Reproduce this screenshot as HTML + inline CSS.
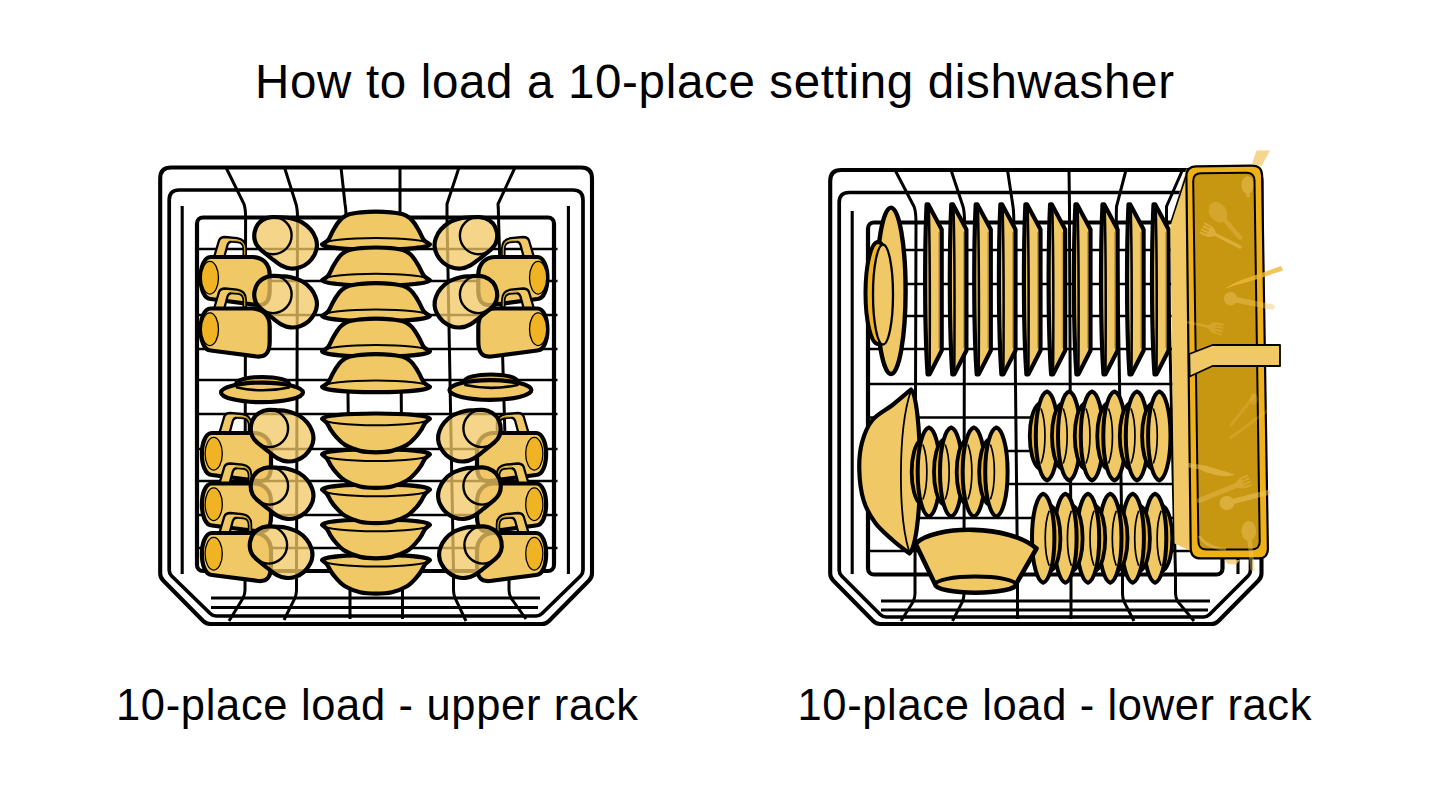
<!DOCTYPE html>
<html lang="en"><head><meta charset="utf-8"><title>How to load a 10-place setting dishwasher</title>
<style>html,body{margin:0;padding:0;background:#fff}body{width:1440px;height:800px;overflow:hidden;font-family:"Liberation Sans",sans-serif}svg{display:block}text{font-family:"Liberation Sans",sans-serif;fill:#000}</style>
</head><body>
<svg width="1440" height="800" viewBox="0 0 1440 800">
<rect width="1440" height="800" fill="#fff"/>
<text x="255" y="97.5" font-size="47.5" textLength="919" lengthAdjust="spacing">How to load a 10-place setting dishwasher</text>
<text x="116" y="720" font-size="43.5" textLength="522" lengthAdjust="spacing">10-place load - upper rack</text>
<text x="797.5" y="720" font-size="43.5" textLength="514" lengthAdjust="spacing">10-place load - lower rack</text>
<g id="upper">
<path d="M171.2,167.5 H581 Q592,167.5 592,178.5 V573.5 Q592,577.5 589,580.5 L549,621 Q546,624 542,624 H210.2 Q206.2,624 203.2,621 L163.2,580.5 Q160.2,577.5 160.2,573.5 V178.5 Q160.2,167.5 171.2,167.5 Z" fill="none" stroke="#000" stroke-width="4.1" stroke-linejoin="round"/>
<path d="M179.2,190 H573 Q583,190 583,200 V570 Q583,573.5 580.5,576 L542,613.5 Q539.5,616 536,616 H216.2 Q212.7,616 210.2,613.5 L171.7,576 Q169.2,573.5 169.2,570 V200 Q169.2,190 179.2,190 Z" fill="none" stroke="#000" stroke-width="3.7" stroke-linejoin="round"/>
<path d="M182.2,206 V574 M568.4,206 V574" fill="none" stroke="#000" stroke-width="3.1"/>
<path d="M211,598 H540 M211,607.5 H538" fill="none" stroke="#000" stroke-width="2.8"/>
<path d="M226,167.5 L244,204 Q245.6,209 245.6,217.5 M284.5,167.5 L296,204 Q297.5,209 297.5,217.5 M341,167.5 L345,204 Q346,209 346,217.5 M400,167.5 L400,204 Q400,209 400,217.5 M459,167.5 L447,204 Q447,209 447,217.5 M515,167.5 L498,204 Q498.5,209 498.5,217.5 M245,571 V590 Q245,594 243.1,598 L229,621 M296.5,571 V590 Q296.5,594 295.0,598 L284,620 M350,571 V590 Q350,594 350.0,598 L350,619 M402.5,571 V590 Q402.5,594 402.5,598 L402.5,619 M453.5,571 V590 Q453.5,594 455.0,598 L466,621 M509,571 V590 Q509,594 511.0,598 L526,619 " fill="none" stroke="#000" stroke-width="3"/>
<path d="M245.6,217.5 L245,571 M297.5,217.5 L296.5,571 M346,217.5 L350,571 M400,217.5 L402.5,571 M447,217.5 L453.5,571 M498.5,217.5 L509,571 " fill="none" stroke="#000" stroke-width="3"/>
<path d="M197,249 H557.5 M197,281 H557.5 M197,315 H557.5 M197,349 H557.5 M197,380 H557.5 M197,414 H557.5 M197,449 H557.5 M197,481 H557.5 M197,515 H557.5 M197,548 H557.5 " fill="none" stroke="#000" stroke-width="2.6"/>
<rect x="197" y="217.5" width="357" height="353.5" rx="6" fill="none" stroke="#000" stroke-width="4.2"/>
<g><path fill-rule="evenodd" d="M213.79999999999998,258 L219.0,240.5 Q220.5,237 225.0,237 L237.0,238.2 Q245.79999999999998,239.5 245.79999999999998,248 V258 Z M224.0,258 L227.5,245 Q228.5,241.5 232.0,241.6 L238.0,242.2 Q243.6,243 243.6,249 V258 Z" fill="#F0C865" stroke="#000" stroke-width="2.3" stroke-linejoin="round"/><path d="M230.7,240.4 L238.7,241 Q244.5,242 244.7,249 V255" fill="none" stroke="#C9A227" stroke-width="1.2"/><path d="M210.7,257 H252.7 C261.7,257 269.7,263 269.7,275 V290 C269.7,301 265.7,306 256.7,305 L210.7,299 C197.2,299 197.2,257 210.7,257 Z" fill="#F0C865" stroke="#000" stroke-width="4.2" stroke-linejoin="round"/><ellipse cx="209.89999999999998" cy="277.7" rx="8.6" ry="16.4" fill="#F0B323" stroke="#000" stroke-width="1.3"/></g>
<g><path fill-rule="evenodd" d="M213.79999999999998,309.5 L219.0,292.0 Q220.5,288.5 225.0,288.5 L237.0,289.7 Q245.79999999999998,291.0 245.79999999999998,299.5 V309.5 Z M224.0,309.5 L227.5,296.5 Q228.5,293.0 232.0,293.1 L238.0,293.7 Q243.6,294.5 243.6,300.5 V309.5 Z" fill="#F0C865" stroke="#000" stroke-width="2.3" stroke-linejoin="round"/><path d="M230.7,291.9 L238.7,292.5 Q244.5,293.5 244.7,300.5 V306.5" fill="none" stroke="#C9A227" stroke-width="1.2"/><path d="M210.7,308.5 H252.7 C261.7,308.5 269.7,314.5 269.7,326.5 V341.5 C269.7,352.5 265.7,357.5 256.7,356.5 L210.7,350.5 C197.2,350.5 197.2,308.5 210.7,308.5 Z" fill="#F0C865" stroke="#000" stroke-width="4.2" stroke-linejoin="round"/><ellipse cx="209.89999999999998" cy="329.2" rx="8.6" ry="16.4" fill="#F0B323" stroke="#000" stroke-width="1.3"/></g>
<g transform="translate(748,0) scale(-1,1)"><path fill-rule="evenodd" d="M213.79999999999998,258 L219.0,240.5 Q220.5,237 225.0,237 L237.0,238.2 Q245.79999999999998,239.5 245.79999999999998,248 V258 Z M224.0,258 L227.5,245 Q228.5,241.5 232.0,241.6 L238.0,242.2 Q243.6,243 243.6,249 V258 Z" fill="#F0C865" stroke="#000" stroke-width="2.3" stroke-linejoin="round"/><path d="M230.7,240.4 L238.7,241 Q244.5,242 244.7,249 V255" fill="none" stroke="#C9A227" stroke-width="1.2"/><path d="M210.7,257 H252.7 C261.7,257 269.7,263 269.7,275 V290 C269.7,301 265.7,306 256.7,305 L210.7,299 C197.2,299 197.2,257 210.7,257 Z" fill="#F0C865" stroke="#000" stroke-width="4.2" stroke-linejoin="round"/><ellipse cx="209.89999999999998" cy="277.7" rx="8.6" ry="16.4" fill="#F0B323" stroke="#000" stroke-width="1.3"/></g>
<g transform="translate(748,0) scale(-1,1)"><path fill-rule="evenodd" d="M213.79999999999998,309.5 L219.0,292.0 Q220.5,288.5 225.0,288.5 L237.0,289.7 Q245.79999999999998,291.0 245.79999999999998,299.5 V309.5 Z M224.0,309.5 L227.5,296.5 Q228.5,293.0 232.0,293.1 L238.0,293.7 Q243.6,294.5 243.6,300.5 V309.5 Z" fill="#F0C865" stroke="#000" stroke-width="2.3" stroke-linejoin="round"/><path d="M230.7,291.9 L238.7,292.5 Q244.5,293.5 244.7,300.5 V306.5" fill="none" stroke="#C9A227" stroke-width="1.2"/><path d="M210.7,308.5 H252.7 C261.7,308.5 269.7,314.5 269.7,326.5 V341.5 C269.7,352.5 265.7,357.5 256.7,356.5 L210.7,350.5 C197.2,350.5 197.2,308.5 210.7,308.5 Z" fill="#F0C865" stroke="#000" stroke-width="4.2" stroke-linejoin="round"/><ellipse cx="209.89999999999998" cy="329.2" rx="8.6" ry="16.4" fill="#F0B323" stroke="#000" stroke-width="1.3"/></g>
<g><path fill-rule="evenodd" d="M219.1,434 L224.3,416.5 Q225.8,413 230.3,413 L242.3,414.2 Q251.1,415.5 251.1,424 V434 Z M229.3,434 L232.8,421 Q233.8,417.5 237.3,417.6 L243.3,418.2 Q248.9,419 248.9,425 V434 Z" fill="#F0C865" stroke="#000" stroke-width="2.3" stroke-linejoin="round"/><path d="M236,416.4 L244,417 Q249.8,418 250,425 V431" fill="none" stroke="#C9A227" stroke-width="1.2"/><path d="M212,433 H254 C263,433 271,439 271,451 V466 C271,477 267,482 258,481 L212,475 C198.5,475 198.5,433 212,433 Z" fill="#F0C865" stroke="#000" stroke-width="4.2" stroke-linejoin="round"/><ellipse cx="213.7" cy="453.7" rx="8.6" ry="16.4" fill="#F0B323" stroke="#000" stroke-width="1.3"/></g>
<g transform="translate(748,0) scale(-1,1)"><path fill-rule="evenodd" d="M219.1,434 L224.3,416.5 Q225.8,413 230.3,413 L242.3,414.2 Q251.1,415.5 251.1,424 V434 Z M229.3,434 L232.8,421 Q233.8,417.5 237.3,417.6 L243.3,418.2 Q248.9,419 248.9,425 V434 Z" fill="#F0C865" stroke="#000" stroke-width="2.3" stroke-linejoin="round"/><path d="M236,416.4 L244,417 Q249.8,418 250,425 V431" fill="none" stroke="#C9A227" stroke-width="1.2"/><path d="M212,433 H254 C263,433 271,439 271,451 V466 C271,477 267,482 258,481 L212,475 C198.5,475 198.5,433 212,433 Z" fill="#F0C865" stroke="#000" stroke-width="4.2" stroke-linejoin="round"/><ellipse cx="213.7" cy="453.7" rx="8.6" ry="16.4" fill="#F0B323" stroke="#000" stroke-width="1.3"/></g>
<g><path fill-rule="evenodd" d="M219.1,484.5 L224.3,467.0 Q225.8,463.5 230.3,463.5 L242.3,464.7 Q251.1,466.0 251.1,474.5 V484.5 Z M229.3,484.5 L232.8,471.5 Q233.8,468.0 237.3,468.1 L243.3,468.7 Q248.9,469.5 248.9,475.5 V484.5 Z" fill="#F0C865" stroke="#000" stroke-width="2.3" stroke-linejoin="round"/><path d="M236,466.9 L244,467.5 Q249.8,468.5 250,475.5 V481.5" fill="none" stroke="#C9A227" stroke-width="1.2"/><path d="M212,483.5 H254 C263,483.5 271,489.5 271,501.5 V516.5 C271,527.5 267,532.5 258,531.5 L212,525.5 C198.5,525.5 198.5,483.5 212,483.5 Z" fill="#F0C865" stroke="#000" stroke-width="4.2" stroke-linejoin="round"/><ellipse cx="213.7" cy="504.2" rx="8.6" ry="16.4" fill="#F0B323" stroke="#000" stroke-width="1.3"/></g>
<g transform="translate(748,0) scale(-1,1)"><path fill-rule="evenodd" d="M219.1,484.5 L224.3,467.0 Q225.8,463.5 230.3,463.5 L242.3,464.7 Q251.1,466.0 251.1,474.5 V484.5 Z M229.3,484.5 L232.8,471.5 Q233.8,468.0 237.3,468.1 L243.3,468.7 Q248.9,469.5 248.9,475.5 V484.5 Z" fill="#F0C865" stroke="#000" stroke-width="2.3" stroke-linejoin="round"/><path d="M236,466.9 L244,467.5 Q249.8,468.5 250,475.5 V481.5" fill="none" stroke="#C9A227" stroke-width="1.2"/><path d="M212,483.5 H254 C263,483.5 271,489.5 271,501.5 V516.5 C271,527.5 267,532.5 258,531.5 L212,525.5 C198.5,525.5 198.5,483.5 212,483.5 Z" fill="#F0C865" stroke="#000" stroke-width="4.2" stroke-linejoin="round"/><ellipse cx="213.7" cy="504.2" rx="8.6" ry="16.4" fill="#F0B323" stroke="#000" stroke-width="1.3"/></g>
<g><path fill-rule="evenodd" d="M219.1,534 L224.3,516.5 Q225.8,513 230.3,513 L242.3,514.2 Q251.1,515.5 251.1,524 V534 Z M229.3,534 L232.8,521 Q233.8,517.5 237.3,517.6 L243.3,518.2 Q248.9,519 248.9,525 V534 Z" fill="#F0C865" stroke="#000" stroke-width="2.3" stroke-linejoin="round"/><path d="M236,516.4 L244,517 Q249.8,518 250,525 V531" fill="none" stroke="#C9A227" stroke-width="1.2"/><path d="M212,533 H254 C263,533 271,539 271,551 V566 C271,577 267,582 258,581 L212,575 C198.5,575 198.5,533 212,533 Z" fill="#F0C865" stroke="#000" stroke-width="4.2" stroke-linejoin="round"/><ellipse cx="213.7" cy="553.7" rx="8.6" ry="16.4" fill="#F0B323" stroke="#000" stroke-width="1.3"/></g>
<g transform="translate(748,0) scale(-1,1)"><path fill-rule="evenodd" d="M219.1,534 L224.3,516.5 Q225.8,513 230.3,513 L242.3,514.2 Q251.1,515.5 251.1,524 V534 Z M229.3,534 L232.8,521 Q233.8,517.5 237.3,517.6 L243.3,518.2 Q248.9,519 248.9,525 V534 Z" fill="#F0C865" stroke="#000" stroke-width="2.3" stroke-linejoin="round"/><path d="M236,516.4 L244,517 Q249.8,518 250,525 V531" fill="none" stroke="#C9A227" stroke-width="1.2"/><path d="M212,533 H254 C263,533 271,539 271,551 V566 C271,577 267,582 258,581 L212,575 C198.5,575 198.5,533 212,533 Z" fill="#F0C865" stroke="#000" stroke-width="4.2" stroke-linejoin="round"/><ellipse cx="213.7" cy="553.7" rx="8.6" ry="16.4" fill="#F0B323" stroke="#000" stroke-width="1.3"/></g>
<g><ellipse cx="262.5" cy="383.9" rx="26.5" ry="7" fill="#F0B323" stroke="#000" stroke-width="4"/><ellipse cx="262" cy="392.4" rx="41" ry="9.8" fill="#F0C865" stroke="#000" stroke-width="4.2"/><path d="M237,387.4 Q262.5,393.2 289,387.4" fill="none" stroke="#000" stroke-width="2.6" stroke-linecap="round"/></g>
<g><ellipse cx="490.9" cy="381.5" rx="26.5" ry="7" fill="#F0B323" stroke="#000" stroke-width="4"/><ellipse cx="490.4" cy="390" rx="41" ry="9.8" fill="#F0C865" stroke="#000" stroke-width="4.2"/><path d="M465.4,385 Q490.9,390.8 517.4,385" fill="none" stroke="#000" stroke-width="2.6" stroke-linecap="round"/></g>
<g><path d="M260.9,249.8 A18.6,18.6 0 0 1 266.8,218.0 C267.8,217.8 270.6,217.1 273.0,217.0 C275.4,216.9 278.3,217.2 281.3,217.4 C284.2,217.6 287.2,217.5 290.7,218.3 C294.2,219.2 299.2,220.7 302.5,222.6 C305.8,224.5 308.6,227.1 310.8,229.7 C313.0,232.3 314.6,235.3 315.6,238.1 C316.7,240.9 317.1,243.6 316.9,246.4 C316.7,249.1 315.9,252.1 314.5,254.7 C313.1,257.4 310.9,260.4 308.5,262.5 C306.1,264.6 303.1,266.3 300.1,267.3 C297.1,268.3 293.8,268.8 290.6,268.5 C287.4,268.2 284.3,267.1 281.1,265.4 C277.9,263.7 274.8,260.9 271.4,258.3 C268.1,255.7 262.6,251.2 260.9,249.8 Z" fill="#F0C865" fill-opacity="0.76" stroke="#000" stroke-width="4.2" stroke-linejoin="round"/><circle cx="273" cy="235.6" r="18.6" fill="none" stroke="#000" stroke-width="2.4"/></g>
<g transform="translate(751.5,0) scale(-1,1)"><path d="M260.9,249.8 A18.6,18.6 0 0 1 266.8,218.0 C267.8,217.8 270.6,217.1 273.0,217.0 C275.4,216.9 278.3,217.2 281.3,217.4 C284.2,217.6 287.2,217.5 290.7,218.3 C294.2,219.2 299.2,220.7 302.5,222.6 C305.8,224.5 308.6,227.1 310.8,229.7 C313.0,232.3 314.6,235.3 315.6,238.1 C316.7,240.9 317.1,243.6 316.9,246.4 C316.7,249.1 315.9,252.1 314.5,254.7 C313.1,257.4 310.9,260.4 308.5,262.5 C306.1,264.6 303.1,266.3 300.1,267.3 C297.1,268.3 293.8,268.8 290.6,268.5 C287.4,268.2 284.3,267.1 281.1,265.4 C277.9,263.7 274.8,260.9 271.4,258.3 C268.1,255.7 262.6,251.2 260.9,249.8 Z" fill="#F0C865" fill-opacity="0.76" stroke="#000" stroke-width="4.2" stroke-linejoin="round"/><circle cx="273" cy="235.6" r="18.6" fill="none" stroke="#000" stroke-width="2.4"/></g>
<g><path d="M260.9,308.7 A18.6,18.6 0 0 1 266.8,276.9 C267.8,276.7 270.6,276.0 273.0,275.9 C275.4,275.8 278.3,276.1 281.3,276.3 C284.2,276.5 287.2,276.4 290.7,277.2 C294.2,278.1 299.2,279.6 302.5,281.5 C305.8,283.4 308.6,286.0 310.8,288.6 C313.0,291.2 314.6,294.2 315.6,297.0 C316.7,299.8 317.1,302.5 316.9,305.3 C316.7,308.0 315.9,311.0 314.5,313.6 C313.1,316.3 310.9,319.3 308.5,321.4 C306.1,323.5 303.1,325.2 300.1,326.2 C297.1,327.2 293.8,327.7 290.6,327.4 C287.4,327.1 284.3,326.0 281.1,324.3 C277.9,322.6 274.8,319.8 271.4,317.2 C268.1,314.6 262.6,310.1 260.9,308.7 Z" fill="#F0C865" fill-opacity="0.76" stroke="#000" stroke-width="4.2" stroke-linejoin="round"/><circle cx="273" cy="294.5" r="18.6" fill="none" stroke="#000" stroke-width="2.4"/></g>
<g transform="translate(751.5,0) scale(-1,1)"><path d="M260.9,308.7 A18.6,18.6 0 0 1 266.8,276.9 C267.8,276.7 270.6,276.0 273.0,275.9 C275.4,275.8 278.3,276.1 281.3,276.3 C284.2,276.5 287.2,276.4 290.7,277.2 C294.2,278.1 299.2,279.6 302.5,281.5 C305.8,283.4 308.6,286.0 310.8,288.6 C313.0,291.2 314.6,294.2 315.6,297.0 C316.7,299.8 317.1,302.5 316.9,305.3 C316.7,308.0 315.9,311.0 314.5,313.6 C313.1,316.3 310.9,319.3 308.5,321.4 C306.1,323.5 303.1,325.2 300.1,326.2 C297.1,327.2 293.8,327.7 290.6,327.4 C287.4,327.1 284.3,326.0 281.1,324.3 C277.9,322.6 274.8,319.8 271.4,317.2 C268.1,314.6 262.6,310.1 260.9,308.7 Z" fill="#F0C865" fill-opacity="0.76" stroke="#000" stroke-width="4.2" stroke-linejoin="round"/><circle cx="273" cy="294.5" r="18.6" fill="none" stroke="#000" stroke-width="2.4"/></g>
<g><path d="M257.4,442.7 A18.6,18.6 0 0 1 263.3,410.9 C264.3,410.7 267.1,410.0 269.5,409.9 C271.9,409.8 274.8,410.1 277.8,410.3 C280.7,410.5 283.7,410.4 287.2,411.2 C290.7,412.1 295.7,413.6 299.0,415.5 C302.3,417.4 305.1,420.0 307.3,422.6 C309.5,425.2 311.1,428.2 312.1,431.0 C313.2,433.8 313.6,436.5 313.4,439.3 C313.2,442.0 312.4,445.0 311.0,447.6 C309.6,450.3 307.4,453.3 305.0,455.4 C302.6,457.5 299.6,459.2 296.6,460.2 C293.6,461.2 290.3,461.7 287.1,461.4 C283.9,461.1 280.8,460.0 277.6,458.3 C274.4,456.6 271.3,453.8 267.9,451.2 C264.6,448.6 259.1,444.1 257.4,442.7 Z" fill="#F0C865" fill-opacity="0.76" stroke="#000" stroke-width="4.2" stroke-linejoin="round"/><circle cx="269.5" cy="428.5" r="18.6" fill="none" stroke="#000" stroke-width="2.4"/></g>
<g transform="translate(751.5,0) scale(-1,1)"><path d="M257.4,442.7 A18.6,18.6 0 0 1 263.3,410.9 C264.3,410.7 267.1,410.0 269.5,409.9 C271.9,409.8 274.8,410.1 277.8,410.3 C280.7,410.5 283.7,410.4 287.2,411.2 C290.7,412.1 295.7,413.6 299.0,415.5 C302.3,417.4 305.1,420.0 307.3,422.6 C309.5,425.2 311.1,428.2 312.1,431.0 C313.2,433.8 313.6,436.5 313.4,439.3 C313.2,442.0 312.4,445.0 311.0,447.6 C309.6,450.3 307.4,453.3 305.0,455.4 C302.6,457.5 299.6,459.2 296.6,460.2 C293.6,461.2 290.3,461.7 287.1,461.4 C283.9,461.1 280.8,460.0 277.6,458.3 C274.4,456.6 271.3,453.8 267.9,451.2 C264.6,448.6 259.1,444.1 257.4,442.7 Z" fill="#F0C865" fill-opacity="0.76" stroke="#000" stroke-width="4.2" stroke-linejoin="round"/><circle cx="269.5" cy="428.5" r="18.6" fill="none" stroke="#000" stroke-width="2.4"/></g>
<g><path d="M257.4,500.2 A18.6,18.6 0 0 1 263.3,468.4 C264.3,468.2 267.1,467.5 269.5,467.4 C271.9,467.3 274.8,467.6 277.8,467.8 C280.7,468.0 283.7,467.9 287.2,468.7 C290.7,469.6 295.7,471.1 299.0,473.0 C302.3,474.9 305.1,477.5 307.3,480.1 C309.5,482.7 311.1,485.7 312.1,488.5 C313.2,491.3 313.6,494.0 313.4,496.8 C313.2,499.5 312.4,502.5 311.0,505.1 C309.6,507.8 307.4,510.8 305.0,512.9 C302.6,515.0 299.6,516.7 296.6,517.7 C293.6,518.7 290.3,519.2 287.1,518.9 C283.9,518.6 280.8,517.5 277.6,515.8 C274.4,514.1 271.3,511.3 267.9,508.7 C264.6,506.1 259.1,501.6 257.4,500.2 Z" fill="#F0C865" fill-opacity="0.76" stroke="#000" stroke-width="4.2" stroke-linejoin="round"/><circle cx="269.5" cy="486" r="18.6" fill="none" stroke="#000" stroke-width="2.4"/></g>
<g transform="translate(751.5,0) scale(-1,1)"><path d="M257.4,500.2 A18.6,18.6 0 0 1 263.3,468.4 C264.3,468.2 267.1,467.5 269.5,467.4 C271.9,467.3 274.8,467.6 277.8,467.8 C280.7,468.0 283.7,467.9 287.2,468.7 C290.7,469.6 295.7,471.1 299.0,473.0 C302.3,474.9 305.1,477.5 307.3,480.1 C309.5,482.7 311.1,485.7 312.1,488.5 C313.2,491.3 313.6,494.0 313.4,496.8 C313.2,499.5 312.4,502.5 311.0,505.1 C309.6,507.8 307.4,510.8 305.0,512.9 C302.6,515.0 299.6,516.7 296.6,517.7 C293.6,518.7 290.3,519.2 287.1,518.9 C283.9,518.6 280.8,517.5 277.6,515.8 C274.4,514.1 271.3,511.3 267.9,508.7 C264.6,506.1 259.1,501.6 257.4,500.2 Z" fill="#F0C865" fill-opacity="0.76" stroke="#000" stroke-width="4.2" stroke-linejoin="round"/><circle cx="269.5" cy="486" r="18.6" fill="none" stroke="#000" stroke-width="2.4"/></g>
<g><path d="M256.4,559.2 A18.6,18.6 0 0 1 262.3,527.4 C263.3,527.2 266.1,526.5 268.5,526.4 C270.9,526.3 273.8,526.6 276.8,526.8 C279.7,527.0 282.7,526.9 286.2,527.7 C289.7,528.6 294.7,530.1 298.0,532.0 C301.3,533.9 304.1,536.5 306.3,539.1 C308.5,541.7 310.1,544.7 311.1,547.5 C312.2,550.3 312.6,553.0 312.4,555.8 C312.2,558.5 311.4,561.5 310.0,564.1 C308.6,566.8 306.4,569.8 304.0,571.9 C301.6,574.0 298.6,575.7 295.6,576.7 C292.6,577.7 289.3,578.2 286.1,577.9 C282.9,577.6 279.8,576.5 276.6,574.8 C273.4,573.1 270.3,570.3 266.9,567.7 C263.6,565.1 258.1,560.6 256.4,559.2 Z" fill="#F0C865" fill-opacity="0.76" stroke="#000" stroke-width="4.2" stroke-linejoin="round"/><circle cx="268.5" cy="545" r="18.6" fill="none" stroke="#000" stroke-width="2.4"/></g>
<g transform="translate(751.5,0) scale(-1,1)"><path d="M256.4,559.2 A18.6,18.6 0 0 1 262.3,527.4 C263.3,527.2 266.1,526.5 268.5,526.4 C270.9,526.3 273.8,526.6 276.8,526.8 C279.7,527.0 282.7,526.9 286.2,527.7 C289.7,528.6 294.7,530.1 298.0,532.0 C301.3,533.9 304.1,536.5 306.3,539.1 C308.5,541.7 310.1,544.7 311.1,547.5 C312.2,550.3 312.6,553.0 312.4,555.8 C312.2,558.5 311.4,561.5 310.0,564.1 C308.6,566.8 306.4,569.8 304.0,571.9 C301.6,574.0 298.6,575.7 295.6,576.7 C292.6,577.7 289.3,578.2 286.1,577.9 C282.9,577.6 279.8,576.5 276.6,574.8 C273.4,573.1 270.3,570.3 266.9,567.7 C263.6,565.1 258.1,560.6 256.4,559.2 Z" fill="#F0C865" fill-opacity="0.76" stroke="#000" stroke-width="4.2" stroke-linejoin="round"/><circle cx="268.5" cy="545" r="18.6" fill="none" stroke="#000" stroke-width="2.4"/></g>
<g><path d="M322.0,244.5 C323.0,243.7 326.4,242.0 328.2,239.8 C330.0,237.6 331.2,234.0 332.6,231.4 C334.1,228.8 335.4,226.4 336.9,224.2 C338.4,222.1 339.8,220.0 341.8,218.3 C343.8,216.7 345.9,215.3 349.1,214.3 C352.3,213.3 356.6,212.7 361.1,212.3 C365.6,211.9 371.0,211.7 376.0,211.7 C381.0,211.7 386.4,211.9 390.9,212.3 C395.4,212.7 399.7,213.3 402.9,214.3 C406.1,215.3 408.2,216.7 410.2,218.3 C412.2,220.0 413.6,222.1 415.1,224.2 C416.6,226.4 417.9,228.8 419.4,231.4 C420.8,234.0 422.0,237.6 423.8,239.8 C425.6,242.0 429.0,243.7 430.0,244.5 A54,5.2 0 0 1 322.0,244.5 Z" fill="#F0C865" stroke="#000" stroke-width="4.2" stroke-linejoin="round"/><path d="M323.5,243.9 A52.5,6 0 0 1 428.5,243.9" fill="none" stroke="#000" stroke-width="2"/></g>
<g><path d="M322.0,280.3 C323.0,279.5 326.4,277.8 328.2,275.6 C330.0,273.4 331.2,269.8 332.6,267.2 C334.1,264.6 335.4,262.2 336.9,260.1 C338.4,257.9 339.8,255.8 341.8,254.2 C343.8,252.5 345.9,251.1 349.1,250.1 C352.3,249.1 356.6,248.5 361.1,248.1 C365.6,247.7 371.0,247.5 376.0,247.5 C381.0,247.5 386.4,247.7 390.9,248.1 C395.4,248.5 399.7,249.1 402.9,250.1 C406.1,251.1 408.2,252.5 410.2,254.2 C412.2,255.8 413.6,257.9 415.1,260.1 C416.6,262.2 417.9,264.6 419.4,267.2 C420.8,269.8 422.0,273.4 423.8,275.6 C425.6,277.8 429.0,279.5 430.0,280.3 A54,5.2 0 0 1 322.0,280.3 Z" fill="#F0C865" stroke="#000" stroke-width="4.2" stroke-linejoin="round"/><path d="M323.5,279.7 A52.5,6 0 0 1 428.5,279.7" fill="none" stroke="#000" stroke-width="2"/></g>
<g><path d="M322.0,316.0 C323.0,315.2 326.4,313.5 328.2,311.3 C330.0,309.1 331.2,305.5 332.6,302.9 C334.1,300.3 335.4,297.9 336.9,295.8 C338.4,293.6 339.8,291.5 341.8,289.9 C343.8,288.2 345.9,286.8 349.1,285.8 C352.3,284.8 356.6,284.2 361.1,283.8 C365.6,283.4 371.0,283.2 376.0,283.2 C381.0,283.2 386.4,283.4 390.9,283.8 C395.4,284.2 399.7,284.8 402.9,285.8 C406.1,286.8 408.2,288.2 410.2,289.9 C412.2,291.5 413.6,293.6 415.1,295.8 C416.6,297.9 417.9,300.3 419.4,302.9 C420.8,305.5 422.0,309.1 423.8,311.3 C425.6,313.5 429.0,315.2 430.0,316.0 A54,5.2 0 0 1 322.0,316.0 Z" fill="#F0C865" stroke="#000" stroke-width="4.2" stroke-linejoin="round"/><path d="M323.5,315.4 A52.5,6 0 0 1 428.5,315.4" fill="none" stroke="#000" stroke-width="2"/></g>
<g><path d="M322.0,351.5 C323.0,350.7 326.4,349.0 328.2,346.8 C330.0,344.6 331.2,341.0 332.6,338.4 C334.1,335.8 335.4,333.4 336.9,331.2 C338.4,329.1 339.8,327.0 341.8,325.4 C343.8,323.7 345.9,322.3 349.1,321.3 C352.3,320.3 356.6,319.7 361.1,319.3 C365.6,318.9 371.0,318.7 376.0,318.7 C381.0,318.7 386.4,318.9 390.9,319.3 C395.4,319.7 399.7,320.3 402.9,321.3 C406.1,322.3 408.2,323.7 410.2,325.4 C412.2,327.0 413.6,329.1 415.1,331.2 C416.6,333.4 417.9,335.8 419.4,338.4 C420.8,341.0 422.0,344.6 423.8,346.8 C425.6,349.0 429.0,350.7 430.0,351.5 A54,5.2 0 0 1 322.0,351.5 Z" fill="#F0C865" stroke="#000" stroke-width="4.2" stroke-linejoin="round"/><path d="M323.5,350.9 A52.5,6 0 0 1 428.5,350.9" fill="none" stroke="#000" stroke-width="2"/></g>
<g><path d="M322.0,387.0 C323.0,386.2 326.4,384.5 328.2,382.3 C330.0,380.1 331.2,376.5 332.6,373.9 C334.1,371.3 335.4,368.9 336.9,366.8 C338.4,364.6 339.8,362.5 341.8,360.9 C343.8,359.2 345.9,357.8 349.1,356.8 C352.3,355.8 356.6,355.2 361.1,354.8 C365.6,354.4 371.0,354.2 376.0,354.2 C381.0,354.2 386.4,354.4 390.9,354.8 C395.4,355.2 399.7,355.8 402.9,356.8 C406.1,357.8 408.2,359.2 410.2,360.9 C412.2,362.5 413.6,364.6 415.1,366.8 C416.6,368.9 417.9,371.3 419.4,373.9 C420.8,376.5 422.0,380.1 423.8,382.3 C425.6,384.5 429.0,386.2 430.0,387.0 A54,5.2 0 0 1 322.0,387.0 Z" fill="#F0C865" stroke="#000" stroke-width="4.2" stroke-linejoin="round"/><path d="M323.5,386.4 A52.5,6 0 0 1 428.5,386.4" fill="none" stroke="#000" stroke-width="2"/></g>
<g><path d="M322.0,560.0 C322.8,560.8 325.5,562.6 327.0,564.5 C328.5,566.4 329.6,569.3 331.0,571.5 C332.4,573.7 333.4,575.2 335.7,577.7 C338.0,580.2 340.9,583.8 345.0,586.2 C349.1,588.6 354.8,591.0 360.0,592.2 C365.2,593.4 370.7,593.6 376.0,593.6 C381.3,593.6 386.8,593.4 392.0,592.2 C397.2,591.0 402.9,588.6 407.0,586.2 C411.1,583.8 414.0,580.2 416.3,577.7 C418.6,575.2 419.6,573.7 421.0,571.5 C422.4,569.3 423.5,566.4 425.0,564.5 C426.5,562.6 429.2,560.8 430.0,560.0 A54,5.2 0 0 0 322.0,560.0 Z" fill="#F0C865" stroke="#000" stroke-width="4.2" stroke-linejoin="round"/><path d="M323.5,560.6 A52.5,6 0 0 0 428.5,560.6" fill="none" stroke="#000" stroke-width="2"/></g>
<g><path d="M322.0,524.7 C322.8,525.5 325.5,527.3 327.0,529.2 C328.5,531.1 329.6,534.0 331.0,536.2 C332.4,538.4 333.4,540.0 335.7,542.4 C338.0,544.9 340.9,548.5 345.0,550.9 C349.1,553.3 354.8,555.7 360.0,556.9 C365.2,558.1 370.7,558.3 376.0,558.3 C381.3,558.3 386.8,558.1 392.0,556.9 C397.2,555.7 402.9,553.3 407.0,550.9 C411.1,548.5 414.0,544.9 416.3,542.4 C418.6,540.0 419.6,538.4 421.0,536.2 C422.4,534.0 423.5,531.1 425.0,529.2 C426.5,527.3 429.2,525.5 430.0,524.7 A54,5.2 0 0 0 322.0,524.7 Z" fill="#F0C865" stroke="#000" stroke-width="4.2" stroke-linejoin="round"/><path d="M323.5,525.3 A52.5,6 0 0 0 428.5,525.3" fill="none" stroke="#000" stroke-width="2"/></g>
<g><path d="M322.0,489.6 C322.8,490.4 325.5,492.2 327.0,494.1 C328.5,496.0 329.6,498.9 331.0,501.1 C332.4,503.3 333.4,504.9 335.7,507.3 C338.0,509.8 340.9,513.4 345.0,515.8 C349.1,518.2 354.8,520.6 360.0,521.8 C365.2,523.0 370.7,523.2 376.0,523.2 C381.3,523.2 386.8,523.0 392.0,521.8 C397.2,520.6 402.9,518.2 407.0,515.8 C411.1,513.4 414.0,509.8 416.3,507.3 C418.6,504.9 419.6,503.3 421.0,501.1 C422.4,498.9 423.5,496.0 425.0,494.1 C426.5,492.2 429.2,490.4 430.0,489.6 A54,5.2 0 0 0 322.0,489.6 Z" fill="#F0C865" stroke="#000" stroke-width="4.2" stroke-linejoin="round"/><path d="M323.5,490.2 A52.5,6 0 0 0 428.5,490.2" fill="none" stroke="#000" stroke-width="2"/></g>
<g><path d="M322.0,454.3 C322.8,455.1 325.5,456.9 327.0,458.8 C328.5,460.7 329.6,463.6 331.0,465.8 C332.4,468.0 333.4,469.6 335.7,472.0 C338.0,474.4 340.9,478.1 345.0,480.5 C349.1,482.9 354.8,485.3 360.0,486.5 C365.2,487.7 370.7,487.9 376.0,487.9 C381.3,487.9 386.8,487.7 392.0,486.5 C397.2,485.3 402.9,482.9 407.0,480.5 C411.1,478.1 414.0,474.4 416.3,472.0 C418.6,469.6 419.6,468.0 421.0,465.8 C422.4,463.6 423.5,460.7 425.0,458.8 C426.5,456.9 429.2,455.1 430.0,454.3 A54,5.2 0 0 0 322.0,454.3 Z" fill="#F0C865" stroke="#000" stroke-width="4.2" stroke-linejoin="round"/><path d="M323.5,454.9 A52.5,6 0 0 0 428.5,454.9" fill="none" stroke="#000" stroke-width="2"/></g>
<g><path d="M322.0,418.7 C322.8,419.4 325.5,421.3 327.0,423.2 C328.5,425.1 329.6,428.0 331.0,430.2 C332.4,432.4 333.4,433.9 335.7,436.4 C338.0,438.8 340.9,442.5 345.0,444.9 C349.1,447.3 354.8,449.7 360.0,450.9 C365.2,452.1 370.7,452.3 376.0,452.3 C381.3,452.3 386.8,452.1 392.0,450.9 C397.2,449.7 402.9,447.3 407.0,444.9 C411.1,442.5 414.0,438.8 416.3,436.4 C418.6,433.9 419.6,432.4 421.0,430.2 C422.4,428.0 423.5,425.1 425.0,423.2 C426.5,421.3 429.2,419.4 430.0,418.7 A54,5.2 0 0 0 322.0,418.7 Z" fill="#F0C865" stroke="#000" stroke-width="4.2" stroke-linejoin="round"/><path d="M323.5,419.3 A52.5,6 0 0 0 428.5,419.3" fill="none" stroke="#000" stroke-width="2"/></g>
</g>
<g id="lower">
<path d="M841.2,170 H1250.5 Q1261.5,170 1261.5,181 V573.5 Q1261.5,577.5 1258.5,580.5 L1218.5,621 Q1215.5,624 1211.5,624 H880.2 Q876.2,624 873.2,621 L833.2,580.5 Q830.2,577.5 830.2,573.5 V181 Q830.2,170 841.2,170 Z" fill="none" stroke="#000" stroke-width="4.1" stroke-linejoin="round"/>
<path d="M849.2,192.5 H1240.5 Q1250.5,192.5 1250.5,202.5 V570 Q1250.5,573.5 1248.0,576 L1209.5,614.5 Q1207.0,617 1203.5,617 H886.2 Q882.7,617 880.2,614.5 L841.7,576 Q839.2,573.5 839.2,570 V202.5 Q839.2,192.5 849.2,192.5 Z" fill="none" stroke="#000" stroke-width="3.7" stroke-linejoin="round"/>
<path d="M852.2,211 V574 M1238,211 V574" fill="none" stroke="#000" stroke-width="3.1"/>
<path d="M881,601 H1210 M881,610 H1208" fill="none" stroke="#000" stroke-width="2.8"/>
<path d="M895,170 L914,206.5 Q916,211.5 916,222.5 M951,170 L963,206.5 Q964.5,211.5 964.5,222.5 M1007.5,170 L1013,206.5 Q1013.8,211.5 1013.8,222.5 M1069,170 L1069.5,206.5 Q1069.5,211.5 1069.5,222.5 M1126,170 L1116.5,206.5 Q1116.3,211.5 1116.3,222.5 M1182.5,170 L1166.5,206.5 Q1166.5,211.5 1166.5,222.5 M915,574.5 V593.5 Q915,597.5 913.3,601.5 L901,621 M964,574.5 V593.5 Q964,597.5 962.6,601.5 L952.5,621 M1017.5,574.5 V593.5 Q1017.5,597.5 1017.5,601.5 L1017.5,619 M1071,574.5 V593.5 Q1071,597.5 1071.0,601.5 L1071,619 M1122.5,574.5 V593.5 Q1122.5,597.5 1123.9,601.5 L1134,621 M1175.5,574.5 V593.5 Q1175.5,597.5 1177.7,601.5 L1194,621 " fill="none" stroke="#000" stroke-width="3"/>
<path d="M916,222.5 L915,574.5 M964.5,222.5 L964,574.5 M1013.8,222.5 L1017.5,574.5 M1069.5,222.5 L1071,574.5 M1117,222.5 L1122.5,574.5 M1167,222.5 L1175.5,574.5 " fill="none" stroke="#000" stroke-width="3"/>
<path d="M868,250 H1226.0 M868,284 H1226.0 M868,316 H1226.0 M868,349 H1226.0 M868,384 H1226.0 M868,417.5 H1226.0 M868,451 H1226.0 M868,484 H1226.0 M868,518 H1226.0 M868,551 H1226.0 " fill="none" stroke="#000" stroke-width="2.6"/>
<rect x="868" y="222.5" width="354.5" height="352.0" rx="6" fill="none" stroke="#000" stroke-width="4.2"/>
<ellipse cx="891" cy="290.8" rx="14.6" ry="83.2" fill="#F0C865" stroke="#000" stroke-width="4.4"/>
<ellipse cx="878" cy="293" rx="12.5" ry="51" fill="#F0B323" stroke="#000" stroke-width="4"/>
<ellipse cx="883" cy="294.5" rx="10" ry="50" fill="#F0C865" stroke="#000" stroke-width="2.3"/>
<g><path d="M926.6,204.3 L928.2,204.3 L941.7,229.5 V350.5 L929.6,374.3 L927.6,374.3 C924.5,330 924.5,250 926.6,204.3 Z" fill="#F0C865" stroke="#000" stroke-width="4.2" stroke-linejoin="round"/><path d="M928.8000000000001,206.5 C929.9000000000001,250 929.9000000000001,330 929.6,372" fill="none" stroke="#000" stroke-width="2.5"/><path d="M938.8000000000001,232 V348" fill="none" stroke="#9C7A2A" stroke-width="0.9" opacity="0.7"/></g>
<g><path d="M951.3,204.3 L952.9,204.3 L966.4,229.5 V350.5 L954.3,374.3 L952.3,374.3 C949.1999999999999,330 949.1999999999999,250 951.3,204.3 Z" fill="#F0C865" stroke="#000" stroke-width="4.2" stroke-linejoin="round"/><path d="M953.5,206.5 C954.6,250 954.6,330 954.3,372" fill="none" stroke="#000" stroke-width="2.5"/><path d="M963.5,232 V348" fill="none" stroke="#9C7A2A" stroke-width="0.9" opacity="0.7"/></g>
<g><path d="M975.6999999999999,204.3 L977.3,204.3 L990.8,229.5 V350.5 L978.6999999999999,374.3 L976.6999999999999,374.3 C973.5999999999999,330 973.5999999999999,250 975.6999999999999,204.3 Z" fill="#F0C865" stroke="#000" stroke-width="4.2" stroke-linejoin="round"/><path d="M977.9,206.5 C979.0,250 979.0,330 978.6999999999999,372" fill="none" stroke="#000" stroke-width="2.5"/><path d="M987.9,232 V348" fill="none" stroke="#9C7A2A" stroke-width="0.9" opacity="0.7"/></g>
<g><path d="M1000.4,204.3 L1002,204.3 L1015.5,229.5 V350.5 L1003.4,374.3 L1001.4,374.3 C998.3,330 998.3,250 1000.4,204.3 Z" fill="#F0C865" stroke="#000" stroke-width="4.2" stroke-linejoin="round"/><path d="M1002.6,206.5 C1003.7,250 1003.7,330 1003.4,372" fill="none" stroke="#000" stroke-width="2.5"/><path d="M1012.6,232 V348" fill="none" stroke="#9C7A2A" stroke-width="0.9" opacity="0.7"/></g>
<g><path d="M1025.4,204.3 L1027,204.3 L1040.5,229.5 V350.5 L1028.4,374.3 L1026.4,374.3 C1023.3,330 1023.3,250 1025.4,204.3 Z" fill="#F0C865" stroke="#000" stroke-width="4.2" stroke-linejoin="round"/><path d="M1027.6,206.5 C1028.7,250 1028.7,330 1028.4,372" fill="none" stroke="#000" stroke-width="2.5"/><path d="M1037.6,232 V348" fill="none" stroke="#9C7A2A" stroke-width="0.9" opacity="0.7"/></g>
<g><path d="M1050.1000000000001,204.3 L1051.7,204.3 L1065.2,229.5 V350.5 L1053.1000000000001,374.3 L1051.1000000000001,374.3 C1048.0,330 1048.0,250 1050.1000000000001,204.3 Z" fill="#F0C865" stroke="#000" stroke-width="4.2" stroke-linejoin="round"/><path d="M1052.3,206.5 C1053.4,250 1053.4,330 1053.1000000000001,372" fill="none" stroke="#000" stroke-width="2.5"/><path d="M1062.3,232 V348" fill="none" stroke="#9C7A2A" stroke-width="0.9" opacity="0.7"/></g>
<g><path d="M1075.4,204.3 L1077,204.3 L1090.5,229.5 V350.5 L1078.4,374.3 L1076.4,374.3 C1073.3,330 1073.3,250 1075.4,204.3 Z" fill="#F0C865" stroke="#000" stroke-width="4.2" stroke-linejoin="round"/><path d="M1077.6,206.5 C1078.7,250 1078.7,330 1078.4,372" fill="none" stroke="#000" stroke-width="2.5"/><path d="M1087.6,232 V348" fill="none" stroke="#9C7A2A" stroke-width="0.9" opacity="0.7"/></g>
<g><path d="M1102.5,204.3 L1104.1,204.3 L1117.6,229.5 V350.5 L1105.5,374.3 L1103.5,374.3 C1100.3999999999999,330 1100.3999999999999,250 1102.5,204.3 Z" fill="#F0C865" stroke="#000" stroke-width="4.2" stroke-linejoin="round"/><path d="M1104.6999999999998,206.5 C1105.8,250 1105.8,330 1105.5,372" fill="none" stroke="#000" stroke-width="2.5"/><path d="M1114.6999999999998,232 V348" fill="none" stroke="#9C7A2A" stroke-width="0.9" opacity="0.7"/></g>
<g><path d="M1128.5,204.3 L1130.1,204.3 L1143.6,229.5 V350.5 L1131.5,374.3 L1129.5,374.3 C1126.3999999999999,330 1126.3999999999999,250 1128.5,204.3 Z" fill="#F0C865" stroke="#000" stroke-width="4.2" stroke-linejoin="round"/><path d="M1130.6999999999998,206.5 C1131.8,250 1131.8,330 1131.5,372" fill="none" stroke="#000" stroke-width="2.5"/><path d="M1140.6999999999998,232 V348" fill="none" stroke="#9C7A2A" stroke-width="0.9" opacity="0.7"/></g>
<g><path d="M1153.5,204.3 L1155.1,204.3 L1168.6,229.5 V350.5 L1156.5,374.3 L1154.5,374.3 C1151.3999999999999,330 1151.3999999999999,250 1153.5,204.3 Z" fill="#F0C865" stroke="#000" stroke-width="4.2" stroke-linejoin="round"/><path d="M1155.6999999999998,206.5 C1156.8,250 1156.8,330 1156.5,372" fill="none" stroke="#000" stroke-width="2.5"/><path d="M1165.6999999999998,232 V348" fill="none" stroke="#9C7A2A" stroke-width="0.9" opacity="0.7"/></g>
<g><path d="M1039,403.5 C1026.7,412 1026.7,460 1039,468.5" fill="#F0B323" stroke="#000" stroke-width="3.8"/><path d="M1047,391.5 C1052.5,393.0 1058.2,409 1058.2,436 C1058.2,463 1052.5,479.0 1047,480.5 C1041.5,479.0 1035.8,463 1035.8,436 C1035.8,409 1041.5,393.0 1047,391.5 Z" fill="#F0C865" stroke="#000" stroke-width="4" stroke-linejoin="round"/><path d="M1041,408.5 C1046.3,422 1046.3,450 1041,463.5" fill="none" stroke="#000" stroke-width="1.7"/></g>
<g><path d="M1061.2,403.5 C1048.9,412 1048.9,460 1061.2,468.5" fill="#F0B323" stroke="#000" stroke-width="3.8"/><path d="M1069.2,391.5 C1074.7,393.0 1080.4,409 1080.4,436 C1080.4,463 1074.7,479.0 1069.2,480.5 C1063.7,479.0 1058.0,463 1058.0,436 C1058.0,409 1063.7,393.0 1069.2,391.5 Z" fill="#F0C865" stroke="#000" stroke-width="4" stroke-linejoin="round"/><path d="M1063.2,408.5 C1068.5,422 1068.5,450 1063.2,463.5" fill="none" stroke="#000" stroke-width="1.7"/></g>
<g><path d="M1084,403.5 C1071.7,412 1071.7,460 1084,468.5" fill="#F0B323" stroke="#000" stroke-width="3.8"/><path d="M1092,391.5 C1097.5,393.0 1103.2,409 1103.2,436 C1103.2,463 1097.5,479.0 1092,480.5 C1086.5,479.0 1080.8,463 1080.8,436 C1080.8,409 1086.5,393.0 1092,391.5 Z" fill="#F0C865" stroke="#000" stroke-width="4" stroke-linejoin="round"/><path d="M1086,408.5 C1091.3,422 1091.3,450 1086,463.5" fill="none" stroke="#000" stroke-width="1.7"/></g>
<g><path d="M1106.5,403.5 C1094.2,412 1094.2,460 1106.5,468.5" fill="#F0B323" stroke="#000" stroke-width="3.8"/><path d="M1114.5,391.5 C1120.0,393.0 1125.7,409 1125.7,436 C1125.7,463 1120.0,479.0 1114.5,480.5 C1109.0,479.0 1103.3,463 1103.3,436 C1103.3,409 1109.0,393.0 1114.5,391.5 Z" fill="#F0C865" stroke="#000" stroke-width="4" stroke-linejoin="round"/><path d="M1108.5,408.5 C1113.8,422 1113.8,450 1108.5,463.5" fill="none" stroke="#000" stroke-width="1.7"/></g>
<g><path d="M1129,403.5 C1116.7,412 1116.7,460 1129,468.5" fill="#F0B323" stroke="#000" stroke-width="3.8"/><path d="M1137,391.5 C1142.5,393.0 1148.2,409 1148.2,436 C1148.2,463 1142.5,479.0 1137,480.5 C1131.5,479.0 1125.8,463 1125.8,436 C1125.8,409 1131.5,393.0 1137,391.5 Z" fill="#F0C865" stroke="#000" stroke-width="4" stroke-linejoin="round"/><path d="M1131,408.5 C1136.3,422 1136.3,450 1131,463.5" fill="none" stroke="#000" stroke-width="1.7"/></g>
<g><path d="M1151.3,403.5 C1139.0,412 1139.0,460 1151.3,468.5" fill="#F0B323" stroke="#000" stroke-width="3.8"/><path d="M1159.3,391.5 C1164.8,393.0 1170.5,409 1170.5,436 C1170.5,463 1164.8,479.0 1159.3,480.5 C1153.8,479.0 1148.1,463 1148.1,436 C1148.1,409 1153.8,393.0 1159.3,391.5 Z" fill="#F0C865" stroke="#000" stroke-width="4" stroke-linejoin="round"/><path d="M1153.3,408.5 C1158.6,422 1158.6,450 1153.3,463.5" fill="none" stroke="#000" stroke-width="1.7"/></g>
<g transform="translate(2310.2,0) scale(-1,1)"><g><path d="M1147.1,505.70000000000005 C1134.8,514.2 1134.8,562.2 1147.1,570.7" fill="#F0B323" stroke="#000" stroke-width="3.8"/><path d="M1155.1,493.70000000000005 C1160.6,495.20000000000005 1166.3,511.20000000000005 1166.3,538.2 C1166.3,565.2 1160.6,581.2 1155.1,582.7 C1149.6,581.2 1143.8999999999999,565.2 1143.8999999999999,538.2 C1143.8999999999999,511.20000000000005 1149.6,495.20000000000005 1155.1,493.70000000000005 Z" fill="#F0C865" stroke="#000" stroke-width="4" stroke-linejoin="round"/><path d="M1149.1,510.70000000000005 C1154.3999999999999,524.2 1154.3999999999999,552.2 1149.1,565.7" fill="none" stroke="#000" stroke-width="1.7"/></g></g>
<g transform="translate(2265.4,0) scale(-1,1)"><g><path d="M1124.7,505.70000000000005 C1112.4,514.2 1112.4,562.2 1124.7,570.7" fill="#F0B323" stroke="#000" stroke-width="3.8"/><path d="M1132.7,493.70000000000005 C1138.2,495.20000000000005 1143.9,511.20000000000005 1143.9,538.2 C1143.9,565.2 1138.2,581.2 1132.7,582.7 C1127.2,581.2 1121.5,565.2 1121.5,538.2 C1121.5,511.20000000000005 1127.2,495.20000000000005 1132.7,493.70000000000005 Z" fill="#F0C865" stroke="#000" stroke-width="4" stroke-linejoin="round"/><path d="M1126.7,510.70000000000005 C1132.0,524.2 1132.0,552.2 1126.7,565.7" fill="none" stroke="#000" stroke-width="1.7"/></g></g>
<g transform="translate(2220.6,0) scale(-1,1)"><g><path d="M1102.3,505.70000000000005 C1090.0,514.2 1090.0,562.2 1102.3,570.7" fill="#F0B323" stroke="#000" stroke-width="3.8"/><path d="M1110.3,493.70000000000005 C1115.8,495.20000000000005 1121.5,511.20000000000005 1121.5,538.2 C1121.5,565.2 1115.8,581.2 1110.3,582.7 C1104.8,581.2 1099.1,565.2 1099.1,538.2 C1099.1,511.20000000000005 1104.8,495.20000000000005 1110.3,493.70000000000005 Z" fill="#F0C865" stroke="#000" stroke-width="4" stroke-linejoin="round"/><path d="M1104.3,510.70000000000005 C1109.6,524.2 1109.6,552.2 1104.3,565.7" fill="none" stroke="#000" stroke-width="1.7"/></g></g>
<g transform="translate(2176,0) scale(-1,1)"><g><path d="M1080,505.70000000000005 C1067.7,514.2 1067.7,562.2 1080,570.7" fill="#F0B323" stroke="#000" stroke-width="3.8"/><path d="M1088,493.70000000000005 C1093.5,495.20000000000005 1099.2,511.20000000000005 1099.2,538.2 C1099.2,565.2 1093.5,581.2 1088,582.7 C1082.5,581.2 1076.8,565.2 1076.8,538.2 C1076.8,511.20000000000005 1082.5,495.20000000000005 1088,493.70000000000005 Z" fill="#F0C865" stroke="#000" stroke-width="4" stroke-linejoin="round"/><path d="M1082,510.70000000000005 C1087.3,524.2 1087.3,552.2 1082,565.7" fill="none" stroke="#000" stroke-width="1.7"/></g></g>
<g transform="translate(2130.8,0) scale(-1,1)"><g><path d="M1057.4,505.70000000000005 C1045.1000000000001,514.2 1045.1000000000001,562.2 1057.4,570.7" fill="#F0B323" stroke="#000" stroke-width="3.8"/><path d="M1065.4,493.70000000000005 C1070.9,495.20000000000005 1076.6000000000001,511.20000000000005 1076.6000000000001,538.2 C1076.6000000000001,565.2 1070.9,581.2 1065.4,582.7 C1059.9,581.2 1054.2,565.2 1054.2,538.2 C1054.2,511.20000000000005 1059.9,495.20000000000005 1065.4,493.70000000000005 Z" fill="#F0C865" stroke="#000" stroke-width="4" stroke-linejoin="round"/><path d="M1059.4,510.70000000000005 C1064.7,524.2 1064.7,552.2 1059.4,565.7" fill="none" stroke="#000" stroke-width="1.7"/></g></g>
<g transform="translate(2086.4,0) scale(-1,1)"><g><path d="M1035.2,505.70000000000005 C1022.9000000000001,514.2 1022.9000000000001,562.2 1035.2,570.7" fill="#F0B323" stroke="#000" stroke-width="3.8"/><path d="M1043.2,493.70000000000005 C1048.7,495.20000000000005 1054.4,511.20000000000005 1054.4,538.2 C1054.4,565.2 1048.7,581.2 1043.2,582.7 C1037.7,581.2 1032.0,565.2 1032.0,538.2 C1032.0,511.20000000000005 1037.7,495.20000000000005 1043.2,493.70000000000005 Z" fill="#F0C865" stroke="#000" stroke-width="4" stroke-linejoin="round"/><path d="M1037.2,510.70000000000005 C1042.5,524.2 1042.5,552.2 1037.2,565.7" fill="none" stroke="#000" stroke-width="1.7"/></g></g>
<path d="M911,389.5 C907.9,392.1 898.9,399.9 892.5,405.0 C886.1,410.1 877.6,413.8 872.5,420.0 C867.4,426.2 864.2,434.2 862.0,442.5 C859.8,450.8 859.0,460.4 859.3,470.0 C859.5,479.6 860.9,491.2 863.5,500.0 C866.1,508.8 870.2,515.8 875.0,522.5 C879.8,529.2 886.8,534.8 892.5,540.0 C898.2,545.2 906.7,551.2 909.5,553.5 C915,548 920,520 920,471 C920,425 916,394 911,389.5 Z" fill="#F0C865" stroke="#000" stroke-width="4.2" stroke-linejoin="round"/>
<path d="M910.5,392 C898,430 898,515 909,551" fill="none" stroke="#000" stroke-width="1.8"/>
<g><path d="M920.9,439.5 C908.6,448 908.6,496 920.9,504.5" fill="#F0B323" stroke="#000" stroke-width="3.8"/><path d="M928.9,427.5 C934.4,429.0 940.1,445 940.1,472 C940.1,499 934.4,515.0 928.9,516.5 C923.4,515.0 917.6999999999999,499 917.6999999999999,472 C917.6999999999999,445 923.4,429.0 928.9,427.5 Z" fill="#F0C865" stroke="#000" stroke-width="4" stroke-linejoin="round"/><path d="M922.9,444.5 C928.1999999999999,458 928.1999999999999,486 922.9,499.5" fill="none" stroke="#000" stroke-width="1.7"/></g>
<g><path d="M943.2,439.5 C930.9000000000001,448 930.9000000000001,496 943.2,504.5" fill="#F0B323" stroke="#000" stroke-width="3.8"/><path d="M951.2,427.5 C956.7,429.0 962.4000000000001,445 962.4000000000001,472 C962.4000000000001,499 956.7,515.0 951.2,516.5 C945.7,515.0 940.0,499 940.0,472 C940.0,445 945.7,429.0 951.2,427.5 Z" fill="#F0C865" stroke="#000" stroke-width="4" stroke-linejoin="round"/><path d="M945.2,444.5 C950.5,458 950.5,486 945.2,499.5" fill="none" stroke="#000" stroke-width="1.7"/></g>
<g><path d="M965.9,439.5 C953.6,448 953.6,496 965.9,504.5" fill="#F0B323" stroke="#000" stroke-width="3.8"/><path d="M973.9,427.5 C979.4,429.0 985.1,445 985.1,472 C985.1,499 979.4,515.0 973.9,516.5 C968.4,515.0 962.6999999999999,499 962.6999999999999,472 C962.6999999999999,445 968.4,429.0 973.9,427.5 Z" fill="#F0C865" stroke="#000" stroke-width="4" stroke-linejoin="round"/><path d="M967.9,444.5 C973.1999999999999,458 973.1999999999999,486 967.9,499.5" fill="none" stroke="#000" stroke-width="1.7"/></g>
<g><path d="M988.4,439.5 C976.1,448 976.1,496 988.4,504.5" fill="#F0B323" stroke="#000" stroke-width="3.8"/><path d="M996.4,427.5 C1001.9,429.0 1007.6,445 1007.6,472 C1007.6,499 1001.9,515.0 996.4,516.5 C990.9,515.0 985.1999999999999,499 985.1999999999999,472 C985.1999999999999,445 990.9,429.0 996.4,427.5 Z" fill="#F0C865" stroke="#000" stroke-width="4" stroke-linejoin="round"/><path d="M990.4,444.5 C995.6999999999999,458 995.6999999999999,486 990.4,499.5" fill="none" stroke="#000" stroke-width="1.7"/></g>
<path d="M915.5,543.5 C935,524.5 1010,524.5 1036.5,548.5 L1015.8,584.5 A40.3,8.3 0 0 1 935.2,584.5 Z" fill="#F0C865" stroke="#000" stroke-width="4.6" stroke-linejoin="round"/>
<path d="M935.2,584.5 A40.3,8 0 0 1 1015.8,584.5" fill="none" stroke="#000" stroke-width="4"/>
<path d="M1186.5,168 L1170.3,224 L1174.5,543.5 L1192,551.5 Z" fill="#F0C865"/>
<path d="M1186,176 L1170.3,224" fill="none" stroke="#000" stroke-width="1.6"/>
<path d="M1186.4,176.6 Q1186.3,166.6 1196.3,166.4 L1251.9,165.6 Q1261.9,165.4 1262.1,175.4 L1267.9,548.4 Q1268.1,558.4 1258.1,558.4 L1200.8,558.4 Q1190.8,558.4 1190.7,548.4 Z" fill="#EFB11A" stroke="#000" stroke-width="2.2"/>
<path d="M1193.2,181.4 Q1193.1,173.4 1201.1,173.3 L1246.4,172.7 Q1254.4,172.6 1254.5,180.6 L1259.7,541.4 Q1259.8,549.4 1251.8,549.4 L1206.5,549.4 Q1198.5,549.4 1198.4,541.4 Z" fill="#C89712" stroke="#000" stroke-width="2"/>
<path d="M1256.5,150.5 L1270,150.5 L1261.5,166 L1252,164 Z" fill="#F0C865" opacity="0.75"/>
<g opacity="0.45" fill="#F0C865" stroke="#F0C865"><line x1="1247.5" y1="185" x2="1248" y2="196" stroke-width="3" stroke-linecap="round"/><ellipse cx="1247.5" cy="185" rx="6" ry="9" transform="rotate(0 1247.5 185)" stroke="none"/></g>
<g opacity="0.32" fill="#F0C865" stroke="#F0C865"><line x1="1218" y1="212.3" x2="1240" y2="237.5" stroke-width="4.5" stroke-linecap="round"/><ellipse cx="1218" cy="212.3" rx="8.5" ry="11" transform="rotate(-35 1218 212.3)" stroke="none"/></g>
<g opacity="0.5" transform="translate(1211.5 232.5) rotate(207)" fill="none" stroke="#F0C865" stroke-linecap="round"><line x1="-3" y1="0" x2="-32" y2="0" stroke-width="3.2"/><path d="M-4,0 C-1,-5 2,-5 10,-5 M-3,-1.6 L10,-1.7 M-3,1.6 L10,1.7 M-4,0 C-1,5 2,5 10,5" stroke-width="1.9"/><path d="M-5,0 L0,-4 L3,-4 L3,4 L0,4 Z" fill="#F0C865" stroke="none"/></g>
<path d="M1225,288.7 C1236,281 1246,278.5 1255,275.2 L1281,266 L1283,270.5 L1256,279.5 C1246,282.5 1236,285 1225,288.7 Z" fill="#EDB838" opacity="0.8"/>
<g opacity="0.42" fill="#F0C865" stroke="#F0C865"><line x1="1230.6" y1="298.7" x2="1272" y2="307" stroke-width="5.5" stroke-linecap="round"/><ellipse cx="1230.6" cy="298.7" rx="6.7" ry="6.7" transform="rotate(0 1230.6 298.7)" stroke="none"/></g>
<g opacity="0.3" transform="translate(1212.5 327.5) rotate(12)" fill="none" stroke="#F0C865" stroke-linecap="round"><line x1="-3" y1="0" x2="-33" y2="0" stroke-width="2.6"/><path d="M-4,0 C-1,-5 2,-5 10,-5 M-3,-1.6 L10,-1.7 M-3,1.6 L10,1.7 M-4,0 C-1,5 2,5 10,5" stroke-width="1.9"/><path d="M-5,0 L0,-4 L3,-4 L3,4 L0,4 Z" fill="#F0C865" stroke="none"/></g>
<path d="M1231,425 L1254,396 M1231,437.5 L1267,411" fill="none" stroke="#F0C865" stroke-width="3" stroke-linecap="round" opacity="0.22"/>
<ellipse cx="1254" cy="399" rx="4" ry="6" fill="#F0C865" opacity="0.22"/>
<path d="M1182.5,462 L1205,465.5 L1235,474.5 C1225,478.5 1212,475 1200,469.5 L1182.5,466.5 Z" fill="#F0C865" opacity="0.5"/>
<g opacity="0.36" transform="translate(1240 484) rotate(-22)" fill="none" stroke="#F0C865" stroke-linecap="round"><line x1="-3" y1="0" x2="-44" y2="0" stroke-width="5"/><path d="M-4,0 C-1,-5 2,-5 10,-5 M-3,-1.6 L10,-1.7 M-3,1.6 L10,1.7 M-4,0 C-1,5 2,5 10,5" stroke-width="1.9"/><path d="M-5,0 L0,-4 L3,-4 L3,4 L0,4 Z" fill="#F0C865" stroke="none"/></g>
<g opacity="0.5" fill="#F0C865" stroke="#F0C865"><line x1="1227" y1="503" x2="1268" y2="492.5" stroke-width="5" stroke-linecap="round"/><ellipse cx="1227" cy="503" rx="7.5" ry="7" transform="rotate(0 1227 503)" stroke="none"/></g>
<g opacity="0.42" fill="#F0C865" stroke="#F0C865"><line x1="1248.8" y1="531" x2="1252.5" y2="569" stroke-width="4.5" stroke-linecap="round"/><ellipse cx="1248.8" cy="531" rx="7.3" ry="10" transform="rotate(0 1248.8 531)" stroke="none"/></g>
<path d="M1199,536 C1206,546 1215,549 1226,549" fill="none" stroke="#F0C865" stroke-width="3" opacity="0.45"/>
<path d="M1224,560 L1240,560 L1236,564.5 L1228,564 Z" fill="#F0C865" opacity="0.75"/>
<path d="M1189.3,354 L1212.5,345 H1280 V366 H1212.5 L1189.7,376.5 Z" fill="#F0C865" stroke="#000" stroke-width="1.8" stroke-linejoin="round"/>
</g>
</svg>
</body></html>
